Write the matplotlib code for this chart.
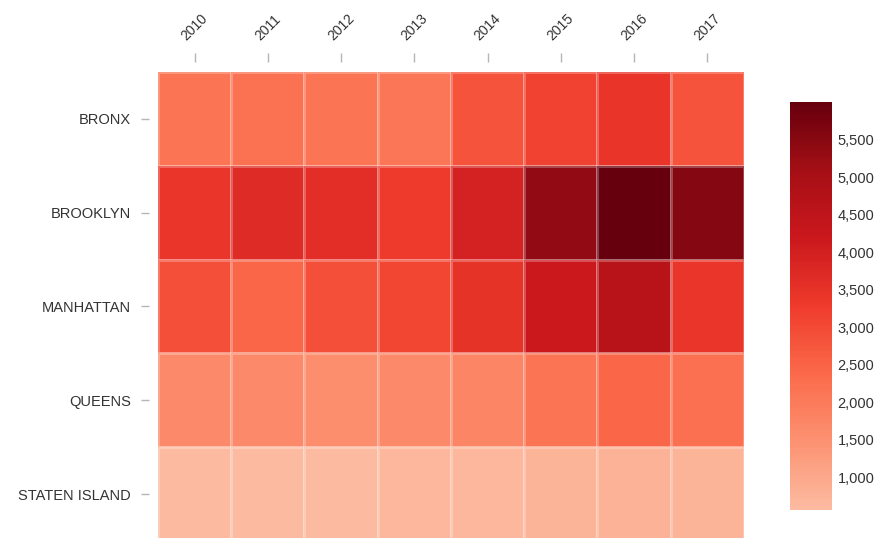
import numpy as np
import matplotlib
matplotlib.use('Agg')
import matplotlib.pyplot as plt
from matplotlib.colors import LinearSegmentedColormap
from matplotlib.ticker import FuncFormatter

plt.rcParams['font.family'] = ['Liberation Sans', 'DejaVu Sans']

# Data
years = ['2010', '2011', '2012', '2013', '2014', '2015', '2016', '2017']
boroughs = ['BRONX', 'BROOKLYN', 'MANHATTAN', 'QUEENS', 'STATEN ISLAND']
bronx = [2150, 2200, 2150, 2100, 2800, 3150, 3450, 2800]
brooklyn = [3400, 3700, 3600, 3300, 3950, 5350, 6000, 5550]
manhattan = [2900, 2450, 2900, 3050, 3500, 4200, 4650, 3400]
queens = [1650, 1650, 1600, 1700, 1750, 2150, 2450, 2250]
staten_island = [560, 600, 600, 650, 680, 720, 780, 720]

values = np.array([bronx, brooklyn, manhattan, queens, staten_island])

# Reds, without the near-white low end
reds = plt.get_cmap('Reds')
cmap = LinearSegmentedColormap.from_list('reds_cut', reds(np.linspace(0.25, 1.0, 256)))

fig = plt.figure(figsize=(8.79, 5.38), dpi=100)
ax = fig.add_axes([0.1797, -0.0056, 0.6667, 0.8718])

mesh = ax.pcolormesh(values, cmap=cmap, vmin=values.min(), vmax=values.max(),
                     edgecolors=(1, 1, 1, 0.25), linewidth=0.8)
ax.set_xlim(0, len(years))
ax.set_ylim(len(boroughs), 0)

ax.xaxis.set_ticks_position('top')
ax.set_xticks(np.arange(len(years)) + 0.5)
ax.set_xticklabels(years)
ax.set_yticks(np.arange(len(boroughs)) + 0.5)
ax.set_yticklabels(boroughs)

for s in ax.spines.values():
    s.set_visible(False)
ax.spines['top'].set_position(('outward', 7.5))
ax.spines['left'].set_position(('outward', 6.8))
ax.tick_params(axis='x', length=6.5, width=1, color='#b5b5b5', pad=6.5,
               labelsize=10, labelcolor='#333333')
ax.tick_params(axis='y', length=6, width=1, color='#b5b5b5', pad=6.5,
               labelsize=10.5, labelcolor='#333333')
for lbl in ax.get_xticklabels():
    lbl.set_rotation(45)
    lbl.set_ha('center')
    lbl.set_va('bottom')

cax = fig.add_axes([0.8987, 0.052, 0.0478, 0.7584])
cb = fig.colorbar(mesh, cax=cax)
cb.outline.set_visible(False)
cb.set_ticks(np.arange(1000, 5501, 500))
cb.ax.yaxis.set_major_formatter(FuncFormatter(lambda v, p: f'{int(v):,}'))
cb.ax.tick_params(length=0, pad=4, labelsize=10.5, labelcolor='#333333')

fig.savefig('out.png', dpi=100)
